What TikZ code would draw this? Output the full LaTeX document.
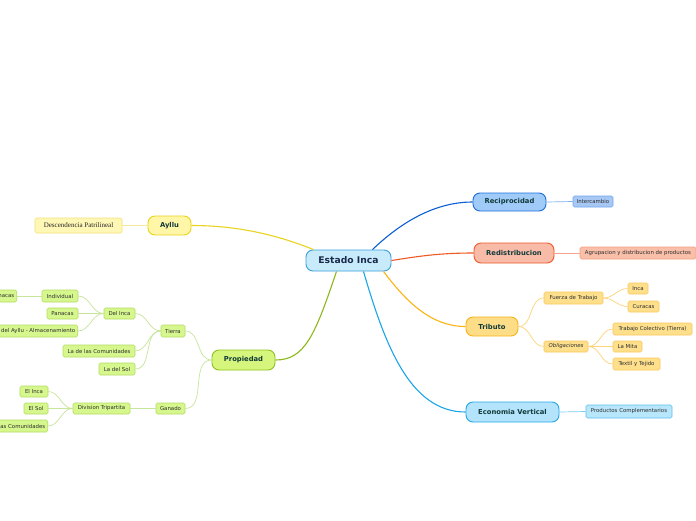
\documentclass[tikz,border=0pt]{standalone}
\usepackage{fontspec}
\setmainfont{DejaVu Sans}
\newfontfamily\serifx{Liberation Serif}
\definecolor{maintext}{HTML}{123A3A}
\definecolor{ctrtext}{HTML}{1A2A4A}
\definecolor{subtext}{HTML}{2E2E2E}
\definecolor{cB}{HTML}{0B5FD6}
\definecolor{cR}{HTML}{EE5A24}
\definecolor{cY}{HTML}{FBB415}
\definecolor{cC}{HTML}{1AA6EA}
\definecolor{cA}{HTML}{E8D420}
\definecolor{cG}{HTML}{8CB81A}
\definecolor{sB}{RGB}{127,176,239}
\definecolor{sR}{RGB}{245,164,138}
\definecolor{sY}{RGB}{252,212,122}
\definecolor{sC}{RGB}{120,205,242}
\definecolor{sA}{RGB}{245,234,156}
\definecolor{sG}{RGB}{200,229,156}
\definecolor{gFill}{RGB}{214,247,141}
\definecolor{gDraw}{RGB}{180,221,98}
\definecolor{yFill}{RGB}{254,223,140}
\definecolor{yDraw}{RGB}{249,201,90}
\definecolor{ctrFill}{RGB}{200,235,251}
\definecolor{ctrDraw}{RGB}{58,160,220}
\definecolor{recFill}{RGB}{160,203,248}
\definecolor{recDraw}{RGB}{30,111,220}
\definecolor{redFill}{RGB}{248,187,168}
\definecolor{redDraw}{RGB}{238,90,42}
\definecolor{triFill}{RGB}{254,221,136}
\definecolor{triDraw}{RGB}{246,181,21}
\definecolor{ecoFill}{RGB}{179,228,251}
\definecolor{ecoDraw}{RGB}{36,167,232}
\definecolor{aylFill}{RGB}{255,246,168}
\definecolor{aylDraw}{RGB}{233,211,28}
\definecolor{proFill}{RGB}{213,245,124}
\definecolor{proDraw}{RGB}{143,194,28}
\definecolor{intFill}{RGB}{167,200,245}
\definecolor{intDraw}{RGB}{110,166,238}
\definecolor{agrFill}{RGB}{249,191,169}
\definecolor{agrDraw}{RGB}{243,160,130}
\definecolor{prdFill}{RGB}{184,230,251}
\definecolor{prdDraw}{RGB}{92,192,238}
\definecolor{desFill}{RGB}{255,247,182}
\definecolor{desDraw}{RGB}{243,226,122}
\begin{document}
\begin{tikzpicture}[x=1pt,y=-1pt,
  mainn/.style={draw, rounded corners=7pt, line width=0.9pt, font=\fontsize{6.8}{7}\selectfont\bfseries, text=maintext, inner sep=0pt},
  subn/.style={draw, rounded corners=1.5pt, line width=0.6pt, font=\fontsize{5.4}{6}\selectfont, text=subtext, inner xsep=2.5pt, inner ysep=0pt, minimum height=11pt},
  greens/.style={subn, fill=gFill, draw=gDraw},
  yels/.style={subn, fill=yFill, draw=yDraw},
  mconn/.style={line width=1.1pt},
  sconn/.style={line width=0.7pt}
]
\useasboundingbox (0,0) rectangle (696,520);
\fill[white] (0,0) rectangle (696,520);

% central
\node[mainn, fill=ctrFill, draw=ctrDraw, text=ctrtext, font=\fontsize{9.2}{10}\selectfont\bfseries, minimum width=85pt, minimum height=21pt] (c) at (348.5,260.5) {Estado Inca};

% main branches
\node[mainn, fill=recFill, draw=recDraw, minimum width=73pt, minimum height=18pt] (rec) at (509.5,202) {Reciprocidad};
\node[mainn, fill=redFill, draw=redDraw, minimum width=80pt, minimum height=20pt] (red) at (514,253) {Redistribucion};
\node[mainn, fill=triFill, draw=triDraw, minimum width=52pt, minimum height=19pt] (tri) at (492,326.5) {Tributo};
\node[mainn, fill=ecoFill, draw=ecoDraw, minimum width=93pt, minimum height=20pt] (eco) at (512.5,412) {Economia Vertical};
\node[mainn, fill=aylFill, draw=aylDraw, minimum width=43pt, minimum height=19pt] (ayl) at (169.5,225.5) {Ayllu};
\node[mainn, fill=proFill, draw=proDraw, minimum width=63pt, minimum height=20pt] (pro) at (243.5,360) {Propiedad};

% right sub nodes
\node[subn, fill=intFill, draw=intDraw, minimum width=40pt] (int) at (593,201.5) {Intercambio};
\node[subn, fill=agrFill, draw=agrDraw, minimum width=116pt, minimum height=12pt, inner xsep=1.5pt] (agr) at (638,253) {Agrupacion y distribucion de productos};
\node[yels, minimum width=59pt, minimum height=12pt] (fue) at (573.5,298) {Fuerza de Trabajo};
\node[yels, minimum width=20pt] (inc) at (638,288.5) {Inca};
\node[yels, minimum width=31pt] (cur) at (643.5,306.5) {Curacas};
\node[yels, minimum width=44pt, font=\fontsize{5.4}{6}\selectfont\itshape] (obl) at (566,346.5) {Obligaciones};
\node[yels, minimum width=79pt, minimum height=12pt] (tra) at (652.5,329) {Trabajo Colectivo (Tierra)};
\node[yels, minimum width=29pt] (mit) at (627.5,346.5) {La Mita};
\node[yels, minimum width=47pt, minimum height=12pt] (tex) at (636.5,364) {Textil y Tejido};
\node[subn, fill=prdFill, draw=prdDraw, minimum width=86pt, minimum height=13pt] (prd) at (629,411.5) {Productos Complementarios};

% left sub nodes
\node[subn, fill=desFill, draw=desDraw, font=\serifx\fontsize{7}{8}\selectfont, text=black!85, minimum width=87pt, minimum height=15pt] (des) at (78.5,225.5) {Descendencia Patrilineal};
\node[greens, minimum width=24pt, minimum height=12pt] (tie) at (173,331) {Tierra};
\node[greens, minimum width=31pt] (dei) at (119.5,313.5) {Del Inca};
\node[greens, minimum width=36pt, minimum height=12pt] (ind) at (60,296) {Individual};
\node[greens, minimum height=12pt, anchor=east] (aca) at (17,296) {Panacas};
\node[greens, minimum width=31pt] (pan) at (62.5,313.5) {Panacas};
\node[greens, minimum height=12pt, anchor=east] (alm) at (78,331) {Tierra del Ayllu - Almacenamiento};
\node[greens, minimum width=72pt, minimum height=12pt] (com) at (99,351) {La de las Comunidades};
\node[greens, minimum width=36pt, minimum height=12pt] (sol) at (117,369) {La del Sol};
\node[greens, minimum width=29pt] (gan) at (170.5,408.5) {Ganado};
\node[greens, minimum width=57pt] (div) at (101.5,408.5) {Division Tripartita};
\node[greens, minimum width=28pt] (ein) at (34,391.5) {El Inca};
\node[greens, minimum width=24pt] (eso) at (36,408.5) {El Sol};
\node[greens, minimum height=12pt, anchor=east] (lco) at (48,426) {Las Comunidades};

% main connectors
\draw[mconn, cB] ([xshift=24pt]c.north) .. controls (395,228) and (430,202) .. (rec.west);
\draw[mconn, cR] (c.east) .. controls (420,256) and (440,253) .. (red.west);
\draw[mconn, cY] ([xshift=35pt]c.south) .. controls (405,300) and (430,326.5) .. (tri.west);
\draw[mconn, cC] ([xshift=15pt]c.south) .. controls (385,345) and (410,412) .. (eco.west);
\draw[mconn, cA] ([xshift=-35pt]c.north) .. controls (270,232) and (230,225.5) .. (ayl.east);
\draw[mconn, cG] ([xshift=-12pt]c.south) .. controls (315,335) and (305,360) .. (pro.east);

% sub connectors right
\draw[sconn, sB] (rec.east) -- (int.west);
\draw[sconn, sR] (red.east) -- (agr.west);
\begin{scope}[sconn, sY]
\draw (tri.east) to[out=0,in=180] (fue.west);
\draw (tri.east) to[out=0,in=180] (obl.west);
\draw (fue.east) to[out=0,in=180] (inc.west);
\draw (fue.east) to[out=0,in=180] (cur.west);
\draw (obl.east) to[out=0,in=180] (tra.west);
\draw (obl.east) to[out=0,in=180] (mit.west);
\draw (obl.east) to[out=0,in=180] (tex.west);
\end{scope}
\draw[sconn, sC] (eco.east) -- (prd.west);

% sub connectors left
\draw[sconn, sA] (ayl.west) -- (des.east);
\begin{scope}[sconn, sG]
\draw (pro.west) to[out=180,in=0] (tie.east);
\draw (pro.west) to[out=180,in=0] (gan.east);
\draw (tie.west) to[out=180,in=0] (dei.east);
\draw (tie.west) to[out=180,in=0] (com.east);
\draw (tie.west) to[out=180,in=0] (sol.east);
\draw (dei.west) to[out=180,in=0] (ind.east);
\draw (dei.west) to[out=180,in=0] (pan.east);
\draw (dei.west) to[out=180,in=0] (alm.east);
\draw (ind.west) -- (aca.east);
\draw (gan.west) -- (div.east);
\draw (div.west) to[out=180,in=0] (ein.east);
\draw (div.west) to[out=180,in=0] (eso.east);
\draw (div.west) to[out=180,in=0] (lco.east);
\end{scope}
\end{tikzpicture}
\end{document}
